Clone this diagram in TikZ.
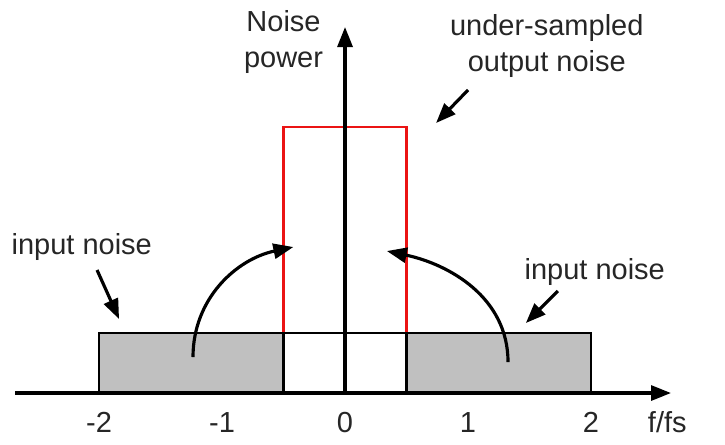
\documentclass[tikz,border=0pt]{standalone}
\usepackage{fontspec}
\setmainfont{Liberation Sans}
\usetikzlibrary{arrows.meta}
\definecolor{noisegray}{RGB}{192,192,192}
\definecolor{outred}{RGB}{235,20,20}

\begin{document}
\begin{tikzpicture}[x=2.46cm, y=1cm, line width=1.6pt,
        lbl/.style={text=black!85, font=\fontsize{16.5}{20}\selectfont, align=center},
        bigarrow/.style={-{Triangle[length=0.4cm,width=0.3cm]}, line width=1.8pt}]
    \useasboundingbox (-2.805,-1.02) rectangle (3.089,7.86);

    % aliased output noise
    \draw[outred, line width=1.4pt] (-0.5,0) rectangle (0.5,5.32);

    % input noise bands
    \filldraw[fill=noisegray] (-2,0) rectangle (-0.5,1.2);
    \filldraw[fill=noisegray] (0.5,0) rectangle (2,1.2);
    \draw (-0.5,1.2) -- (0.5,1.2);
    \draw (-0.5,0) -- (-0.5,1.2);
    \draw (0.5,0) -- (0.5,1.2);

    % axes
    \draw[bigarrow] (-2.68,0) -- (2.65,0);
    \draw[bigarrow] (0,0) -- (0,7.32);

    % tick labels
    \foreach \k in {-2,-1,0,1,2}
        \node[lbl] (tick\k) at (\k,-0.58) {\k};
    \node[lbl] (fs) at (2.62,-0.58) {f/fs};

    % text labels
    \node[lbl] (power) at (-0.5,7.02) {Noise\\power};
    \node[lbl] (outnoise) at (1.64,6.94) {under-sampled\\output noise};
    \node[lbl] (inleft) at (-2.14,2.92) {input noise};
    \node[lbl] (inright) at (2.03,2.42) {input noise};

    % arrow ends
    \coordinate (outtail) at (1.0,6.06);
    \coordinate (outtip) at (0.74,5.4);
    \coordinate (ltail) at (-2.016,2.46);
    \coordinate (ltip) at (-1.837,1.48);
    \coordinate (rtail) at (1.73,2.04);
    \coordinate (rtip) at (1.47,1.40);
    \coordinate (foldl) at (-1.236,0.72);
    \coordinate (foldlend) at (-0.42,2.92);
    \coordinate (foldr) at (1.325,0.62);
    \coordinate (foldrend) at (0.34,2.84);

    \draw[bigarrow] (outtail) -- (outtip);
    \draw[bigarrow] (ltail) -- (ltip);
    \draw[bigarrow] (rtail) -- (rtip);

    % folding of the bands into the baseband
    \draw[bigarrow] (foldl) to[out=90,in=192] (foldlend);
    \draw[bigarrow] (foldr) to[out=90,in=-12] (foldrend);
\end{tikzpicture}
\end{document}
